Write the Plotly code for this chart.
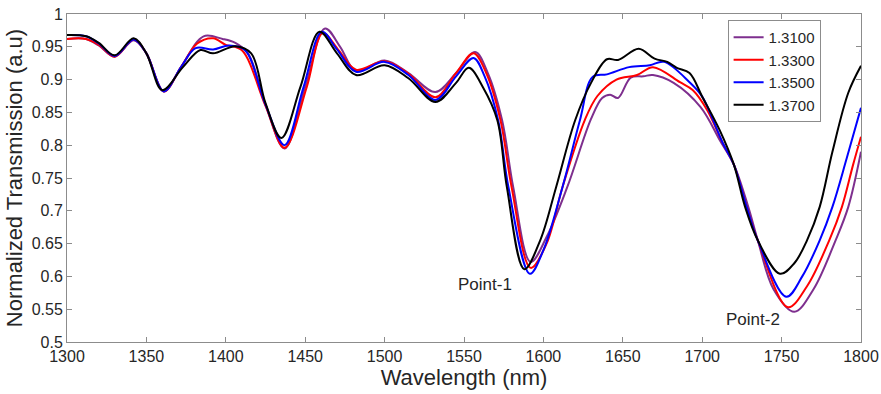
import plotly.graph_objects as go

# ---- data ----
labels = ["1.3100", "1.3300", "1.3500", "1.3700"]
colors = ["#7E2F8E", "#FF0000", "#0000FF", "#000000"]

wl_1310 = [1300, 1312, 1320, 1330, 1342, 1350, 1361, 1372, 1386, 1398, 1406, 1414, 1425, 1437, 1450,
           1462.5, 1472, 1482, 1500, 1515, 1532, 1545, 1557, 1565, 1574, 1581, 1592, 1602, 1615, 1630,
           1637, 1642, 1647, 1655, 1663, 1669, 1682, 1699, 1711, 1720, 1729, 1735, 1745, 1758, 1770,
           1784, 1792, 1800]
tr_1310 = [0.962, 0.962, 0.952, 0.935, 0.960, 0.940, 0.882, 0.920, 0.966, 0.962, 0.956, 0.940, 0.862, 0.795, 0.889,
           0.978, 0.950, 0.913, 0.929, 0.910, 0.881, 0.910, 0.942, 0.910, 0.838, 0.736, 0.622, 0.660, 0.736, 0.840,
           0.872, 0.877, 0.872, 0.903, 0.905, 0.907, 0.895, 0.858, 0.808, 0.770, 0.706, 0.655, 0.580, 0.546, 0.580,
           0.655, 0.706, 0.790]

wl_1330 = [1300, 1312, 1320, 1330, 1342, 1350, 1361, 1372, 1382, 1392, 1400, 1410, 1425, 1437, 1451,
           1461, 1471, 1482, 1500, 1515, 1532, 1545, 1556, 1564, 1573, 1580, 1592, 1602, 1612, 1626,
           1634, 1646, 1659, 1669, 1686, 1694, 1703, 1713, 1720, 1728, 1735, 1754, 1766, 1780, 1788,
           1795, 1800]
tr_1330 = [0.962, 0.962, 0.953, 0.935, 0.961, 0.940, 0.882, 0.920, 0.955, 0.963, 0.953, 0.945, 0.860, 0.796, 0.889,
           0.971, 0.945, 0.915, 0.928, 0.909, 0.873, 0.910, 0.940, 0.910, 0.838, 0.736, 0.613, 0.650, 0.736, 0.838,
           0.875, 0.900, 0.907, 0.919, 0.896, 0.884, 0.854, 0.803, 0.770, 0.706, 0.655, 0.553, 0.585, 0.655, 0.706,
           0.770, 0.813]

wl_1350 = [1300, 1312, 1320, 1330, 1342, 1350, 1361, 1372, 1381, 1392, 1402, 1412, 1425, 1437, 1449,
           1460.5, 1470, 1482, 1500, 1515, 1532, 1545, 1556, 1563, 1571.5, 1578, 1591.5, 1600, 1612, 1623,
           1631, 1640, 1654, 1667, 1676, 1692, 1700, 1713, 1720, 1728, 1735, 1753, 1763, 1774, 1782,
           1791, 1800]
tr_1350 = [0.968, 0.966, 0.955, 0.936, 0.961, 0.940, 0.882, 0.920, 0.948, 0.946, 0.952, 0.945, 0.862, 0.800, 0.889,
           0.973, 0.946, 0.912, 0.927, 0.907, 0.869, 0.905, 0.933, 0.905, 0.838, 0.736, 0.604, 0.640, 0.736, 0.838,
           0.904, 0.908, 0.919, 0.922, 0.927, 0.896, 0.874, 0.803, 0.770, 0.706, 0.655, 0.569, 0.600, 0.655, 0.706,
           0.780, 0.857]

wl_1370 = [1300, 1312, 1320, 1330, 1342, 1350, 1360, 1373, 1384, 1392, 1406, 1416, 1425, 1435, 1447,
           1459, 1470, 1482, 1500, 1515, 1532, 1545, 1553, 1562, 1571, 1577, 1588, 1598, 1608, 1620,
           1630, 1640, 1647, 1660, 1670, 1678, 1684, 1692, 1700, 1711, 1720, 1727, 1735, 1749, 1758,
           1766, 1774, 1782, 1792, 1800]
tr_1370 = [0.968, 0.966, 0.956, 0.937, 0.963, 0.940, 0.884, 0.919, 0.945, 0.940, 0.951, 0.940, 0.864, 0.811, 0.889,
           0.973, 0.940, 0.907, 0.922, 0.902, 0.866, 0.895, 0.918, 0.888, 0.838, 0.736, 0.611, 0.655, 0.736, 0.838,
           0.895, 0.931, 0.930, 0.947, 0.932, 0.927, 0.918, 0.910, 0.874, 0.823, 0.770, 0.706, 0.655, 0.604, 0.620,
           0.655, 0.706, 0.790, 0.880, 0.921]

series_x = [wl_1310, wl_1330, wl_1350, wl_1370]
series_y = [tr_1310, tr_1330, tr_1350, tr_1370]

x_ticks = [1300, 1350, 1400, 1450, 1500, 1550, 1600, 1650, 1700, 1750, 1800]
y_ticks = [0.5, 0.55, 0.6, 0.65, 0.7, 0.75, 0.8, 0.85, 0.9, 0.95, 1]
y_tick_text = ["0.5", "0.55", "0.6", "0.65", "0.7", "0.75", "0.8", "0.85", "0.9", "0.95", "1"]

annot_text = ["Point-1", "Point-2"]
annot_x = [1563, 1732]
annot_y = [0.587, 0.534]

FONT = "Liberation Sans, Arial, sans-serif"
TXT = "#262626"

fig = go.Figure()
for xs, ys, name, c in zip(series_x, series_y, labels, colors):
    fig.add_trace(go.Scatter(x=xs, y=ys, mode="lines", name=name,
                             line=dict(color=c, width=2, shape="spline", smoothing=1.0)))

for t, ax_, ay_ in zip(annot_text, annot_x, annot_y):
    fig.add_annotation(x=ax_, y=ay_, text=t, showarrow=False,
                       font=dict(family=FONT, size=17, color=TXT))

axis_common = dict(showline=True, linecolor="#8c8c8c", linewidth=1, mirror="allticks",
                   ticks="inside", ticklen=5, tickcolor="#8c8c8c", showgrid=False, zeroline=False,
                   automargin=False,
                   tickfont=dict(family=FONT, size=16, color=TXT))

fig.update_layout(
    width=881, height=394,
    margin=dict(l=67, r=20, t=14, b=52),
    paper_bgcolor="white", plot_bgcolor="white",
    font=dict(family=FONT),
    xaxis=dict(range=[1300, 1800], tickvals=x_ticks, ticktext=[str(v) for v in x_ticks],
               ticklabelstandoff=0,
               title=dict(text="Wavelength (nm)", font=dict(family=FONT, size=22, color=TXT), standoff=2),
               **axis_common),
    yaxis=dict(range=[0.5, 1], tickvals=y_ticks, ticktext=y_tick_text,
               title=dict(text="Normalized Transmission (a.u)", font=dict(family=FONT, size=22, color=TXT), standoff=2),
               **axis_common),
    legend=dict(x=0.832, y=0.982, xanchor="left", yanchor="top", bgcolor="white",
                bordercolor="#8c8c8c", borderwidth=1, itemwidth=30,
                font=dict(family=FONT, size=15, color=TXT), tracegroupgap=0),
    showlegend=True,
)

fig.write_html("out.html", post_script="document.body.style.margin='0';",
               config={"displayModeBar": False})
